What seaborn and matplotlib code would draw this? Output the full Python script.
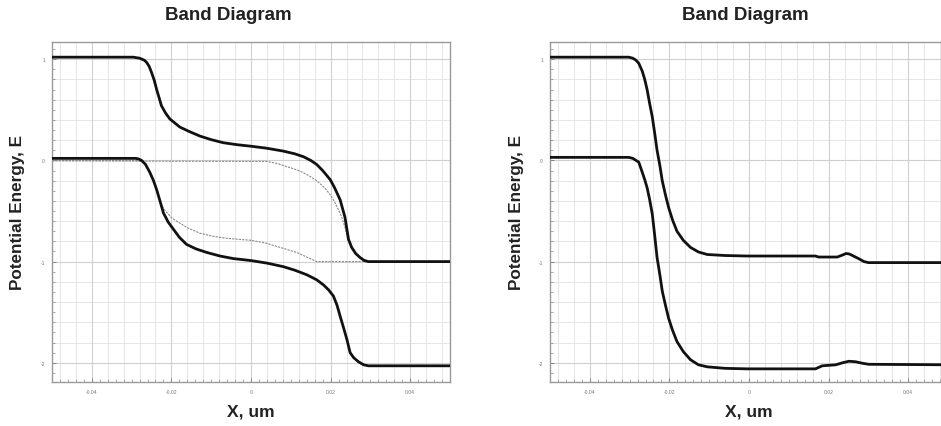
import numpy as np
import pandas as pd
import matplotlib
matplotlib.use("Agg")
import matplotlib.pyplot as plt
from matplotlib.ticker import MultipleLocator, FixedLocator
import seaborn as sns

# ---------------- data ----------------
# Left panel: conduction band, valence band, two quasi-Fermi levels
left_ec_x = [-0.05, -0.0296, -0.028, -0.0268, -0.0262, -0.0256, -0.025, -0.0243, -0.0237, -0.0231, -0.0225,
             -0.0215, -0.0204, -0.019, -0.0179, -0.0155, -0.0128, -0.01, -0.007, -0.0035, 0.0, 0.004,
             0.0081, 0.011, 0.0132, 0.015, 0.0165, 0.018, 0.0199, 0.021, 0.0224, 0.0236, 0.0245, 0.0253,
             0.0263, 0.0274, 0.0285, 0.0295, 0.05]
left_ec_y = [1.02, 1.02, 1.01, 0.99, 0.967, 0.93, 0.87, 0.79, 0.70, 0.62, 0.54,
             0.47, 0.41, 0.365, 0.33, 0.285, 0.24, 0.205, 0.175, 0.155, 0.14, 0.12,
             0.092, 0.065, 0.036, 0.0, -0.04, -0.10, -0.19, -0.27, -0.39, -0.56, -0.78, -0.86,
             -0.92, -0.96, -0.99, -1.0, -1.0]

left_ev_x = [-0.05, -0.029, -0.0283, -0.0275, -0.0265, -0.0254, -0.0245, -0.0237, -0.0228, -0.022, -0.0208,
             -0.0195, -0.018, -0.0162, -0.0138, -0.0111, -0.0078, -0.0045, 0.0, 0.004, 0.0081, 0.011,
             0.014, 0.0165, 0.0182, 0.0195, 0.0207, 0.0216, 0.0224, 0.0233, 0.0241, 0.0249, 0.0258,
             0.027, 0.0283, 0.0295, 0.05]
left_ev_y = [0.02, 0.02, 0.015, 0.0, -0.04, -0.12, -0.20, -0.29, -0.41, -0.52, -0.61,
             -0.68, -0.76, -0.83, -0.875, -0.91, -0.945, -0.97, -0.99, -1.015, -1.05, -1.085,
             -1.13, -1.18, -1.23, -1.28, -1.34, -1.43, -1.54, -1.66, -1.77, -1.90, -1.95,
             -1.99, -2.02, -2.03, -2.03]

left_fn_x = [-0.05, 0.004, 0.0065, 0.0081, 0.0105, 0.0123, 0.0145, 0.0165, 0.0185, 0.0199, 0.021, 0.022,
             0.0228, 0.0236, 0.0243, 0.0251, 0.0262, 0.0274, 0.0295, 0.05]
left_fn_y = [-0.005, -0.01, -0.03, -0.05, -0.08, -0.105, -0.15, -0.2, -0.27, -0.34, -0.41, -0.49,
             -0.56, -0.66, -0.78, -0.86, -0.92, -0.96, -1.0, -1.0]

left_fp_x = [-0.05, -0.029, -0.0275, -0.0265, -0.0254, -0.0245, -0.0237, -0.0229, -0.0215, -0.02, -0.0187,
             -0.016, -0.0128, -0.0095, -0.0061, 0.0, 0.0035, 0.0065, 0.009, 0.0115, 0.014, 0.0165, 0.05]
left_fp_y = [0.0, 0.0, -0.01, -0.04, -0.12, -0.20, -0.29, -0.42, -0.50, -0.565, -0.60,
             -0.665, -0.72, -0.75, -0.77, -0.79, -0.815, -0.85, -0.88, -0.91, -0.955, -1.0, -1.0]

# Right panel: conduction band, valence band
right_ec_x = [-0.05, -0.0302, -0.0292, -0.0284, -0.0277, -0.0268, -0.0262, -0.0256, -0.025, -0.0243,
              -0.0237, -0.0231, -0.0224, -0.0218, -0.021, -0.0202, -0.0192, -0.0181, -0.0165, -0.0147,
              -0.0127, -0.0105, -0.006, -0.0005, 0.0167, 0.0175, 0.0222, 0.0235, 0.0244, 0.0252,
              0.026, 0.0275, 0.0289, 0.030, 0.05]
right_ec_y = [1.02, 1.02, 1.01, 0.99, 0.96, 0.88, 0.80, 0.70, 0.57, 0.43,
              0.27, 0.10, -0.05, -0.20, -0.34, -0.465, -0.59, -0.70, -0.79, -0.86,
              -0.905, -0.93, -0.94, -0.945, -0.945, -0.955, -0.955, -0.935, -0.92, -0.925,
              -0.94, -0.97, -1.0, -1.01, -1.01]

right_ev_x = [-0.05, -0.0302, -0.0292, -0.0284, -0.0277, -0.0268, -0.0262, -0.0256, -0.025, -0.0243,
              -0.0237, -0.0231, -0.0224, -0.0218, -0.021, -0.0202, -0.0192, -0.0181, -0.0165, -0.0147,
              -0.0127, -0.0105, -0.006, -0.0005, 0.0167, 0.0184, 0.0218, 0.0235, 0.0251, 0.0268,
              0.0285, 0.0301, 0.05]
right_ev_y = [0.03, 0.03, 0.02, 0.0, -0.017, -0.12, -0.19, -0.27, -0.38, -0.53,
              -0.74, -0.96, -1.13, -1.29, -1.43, -1.56, -1.68, -1.79, -1.89, -1.97,
              -2.02, -2.04, -2.055, -2.06, -2.06, -2.03, -2.02, -2.0, -1.985, -1.99,
              -2.005, -2.015, -2.02]

x_ticks = [-0.04, -0.02, 0, 0.02, 0.04]
x_tick_labels = ["-0.04", "-0.02", "0", "0.02", "0.04"]
y_ticks = [-2, -1, 0, 1]
y_tick_labels = ["-2", "-1", "0", "1"]

title = "Band Diagram"
xlabel = "X, um"
ylabel = "Potential Energy, E"

# ---------------- styling ----------------
sns.set_theme(style="white")
plt.rcParams["font.family"] = ["Liberation Sans", "DejaVu Sans"]

W, H = 941, 427
fig = plt.figure(figsize=(W / 100, H / 100), dpi=100)

ax_w = 398 / W
ax_h = (383 - 43) / H
ax_b = (H - 383) / H
axL = fig.add_axes([52 / W, ax_b, ax_w, ax_h])
axR = fig.add_axes([550 / W, ax_b, ax_w, ax_h])


def frame(xs, ys):
    return pd.DataFrame({"x": xs, "y": ys})


def style_axes(ax, ylab_x):
    ax.set_xlim(-0.05, 0.05)
    ax.set_ylim(-2.19, 1.17)
    # light minor grid
    for gx in np.arange(-0.048, 0.0501, 0.004):
        ax.axvline(gx, color="#e6e6e6", lw=0.7, zorder=0)
    for gy in np.arange(-2.2, 1.21, 0.2):
        ax.axhline(gy, color="#e6e6e6", lw=0.7, zorder=0)
    ax.xaxis.set_major_locator(FixedLocator(x_ticks))
    ax.yaxis.set_major_locator(FixedLocator(y_ticks))
    ax.set_xticklabels(x_tick_labels)
    ax.set_yticklabels(y_tick_labels)
    ax.xaxis.set_minor_locator(MultipleLocator(0.002))
    ax.yaxis.set_minor_locator(MultipleLocator(0.1))
    ax.grid(True, which="major", color="#d0d0d0", lw=0.8, zorder=0)
    ax.tick_params(which="major", direction="in", length=3, width=0.6, color="#777777",
                   labelsize=3.6, labelcolor="#777777", pad=5, bottom=True, left=True)
    ax.tick_params(which="minor", direction="in", length=2, width=0.5, color="#888888",
                   bottom=True, left=True)
    for sp in ax.spines.values():
        sp.set_color("#9a9a9a")
        sp.set_linewidth(1.0)
    ax.set_xlabel(xlabel, fontsize=12.5, fontweight="bold", color="#222222")
    ax.set_ylabel(ylabel, fontsize=12.3, fontweight="bold", color="#222222")
    ax.xaxis.set_label_coords(0.5, -0.062)
    ax.yaxis.set_label_coords(ylab_x, 0.5)
    ax.set_axisbelow(True)


line_kw = dict(sort=False, estimator=None, legend=False)

# left panel lines
sns.lineplot(data=frame(left_fn_x, left_fn_y), x="x", y="y", ax=axL, color="#8a8a8a", lw=0.8,
             linestyle=(0, (2, 1)), zorder=2, **line_kw)
sns.lineplot(data=frame(left_fp_x, left_fp_y), x="x", y="y", ax=axL, color="#8a8a8a", lw=0.8,
             linestyle=(0, (2, 1)), zorder=2, **line_kw)
sns.lineplot(data=frame(left_ec_x, left_ec_y), x="x", y="y", ax=axL, color="#111111", lw=2.0,
             zorder=3, **line_kw)
sns.lineplot(data=frame(left_ev_x, left_ev_y), x="x", y="y", ax=axL, color="#111111", lw=2.0,
             zorder=3, **line_kw)

# right panel lines
sns.lineplot(data=frame(right_ec_x, right_ec_y), x="x", y="y", ax=axR, color="#111111", lw=2.0,
             zorder=3, **line_kw)
sns.lineplot(data=frame(right_ev_x, right_ev_y), x="x", y="y", ax=axR, color="#111111", lw=2.0,
             zorder=3, **line_kw)

style_axes(axL, -0.068)
style_axes(axR, -0.066)

fig.text(228 / W, 1 - 16 / H, title, ha="center", va="center", fontsize=13.5, fontweight="bold",
         color="#222222")
fig.text(745 / W, 1 - 16 / H, title, ha="center", va="center", fontsize=13.5, fontweight="bold",
         color="#222222")

fig.savefig("out.png", dpi=100)
